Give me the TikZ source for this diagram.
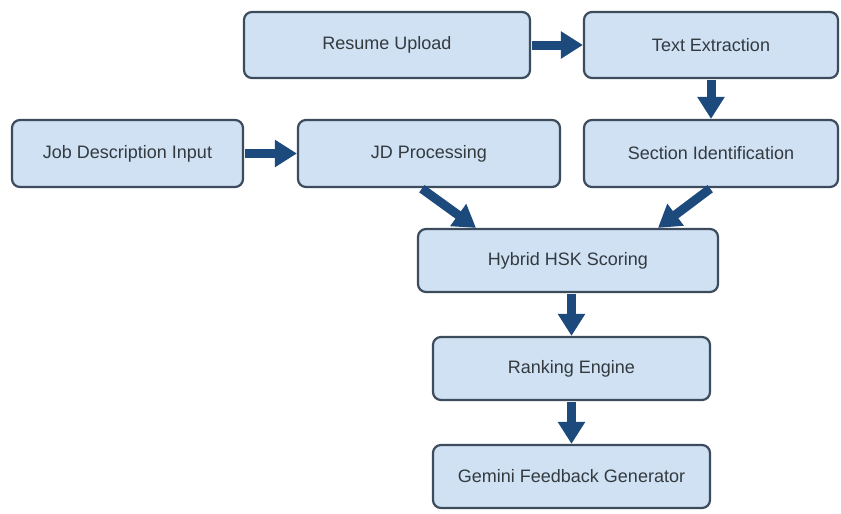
\documentclass[tikz,border=0pt]{standalone}
\usepackage{fontspec}
\setmainfont{Liberation Sans}
\usetikzlibrary{arrows.meta}
\definecolor{boxfill}{HTML}{CFE1F2}
\definecolor{boxline}{HTML}{3D4C5C}
\definecolor{flowblue}{HTML}{1D4A7C}
\definecolor{boxtext}{HTML}{333A40}
\begin{document}
\begin{tikzpicture}[x=0.5pt, y=-0.5pt,
    stage/.style={draw=boxline, line width=1.1pt, fill=boxfill, rounded corners=4pt,
        text=boxtext, font=\fontsize{9}{11}\selectfont, inner sep=0pt},
    flow/.style={draw=flowblue, line width=4.5pt,
        -{Triangle[length=11pt, width=13pt]}, shorten <=0.5pt}]
    % canvas
    \fill[white] (0,0) rectangle (841,514);

    % Resume branch (top row)
    \node[stage, minimum width=143pt, minimum height=33pt] (resume) at (387,45) {Resume Upload};
    \node[stage, minimum width=127pt, minimum height=33pt] (textext) at (711,45) {Text Extraction};

    % JD branch (second row)
    \node[stage, minimum width=115.5pt, minimum height=33.5pt] (jdinput) at (127.5,153.5) {Job Description Input};
    \node[stage, minimum width=131pt, minimum height=33.5pt] (jdproc) at (429,153.5) {JD Processing};
    \node[stage, minimum width=127pt, minimum height=33.5pt] (section) at (711,153.5) {Section Identification};

    % Scoring and output
    \node[stage, minimum width=150pt, minimum height=31.5pt] (hybrid) at (568,260.5) {Hybrid HSK Scoring};
    \node[stage, minimum width=138.5pt, minimum height=31.5pt] (ranking) at (571.5,368.5) {Ranking Engine};
    \node[stage, minimum width=138.5pt, minimum height=31.5pt] (gemini) at (571.5,476.5) {Gemini Feedback Generator};

    % Arrows
    \draw[flow] (resume) -- (textext);
    \draw[flow] (textext) -- (section);
    \draw[flow] (jdinput) -- (jdproc);
    \draw[flow] ([xshift=-4pt]jdproc.south) -- ([xshift=-46pt]hybrid.north);
    \draw[flow] (section.south) -- ([xshift=45pt]hybrid.north);
    \draw[flow] (hybrid.south -| ranking) -- (ranking);
    \draw[flow] (ranking) -- (gemini);
\end{tikzpicture}
\end{document}
